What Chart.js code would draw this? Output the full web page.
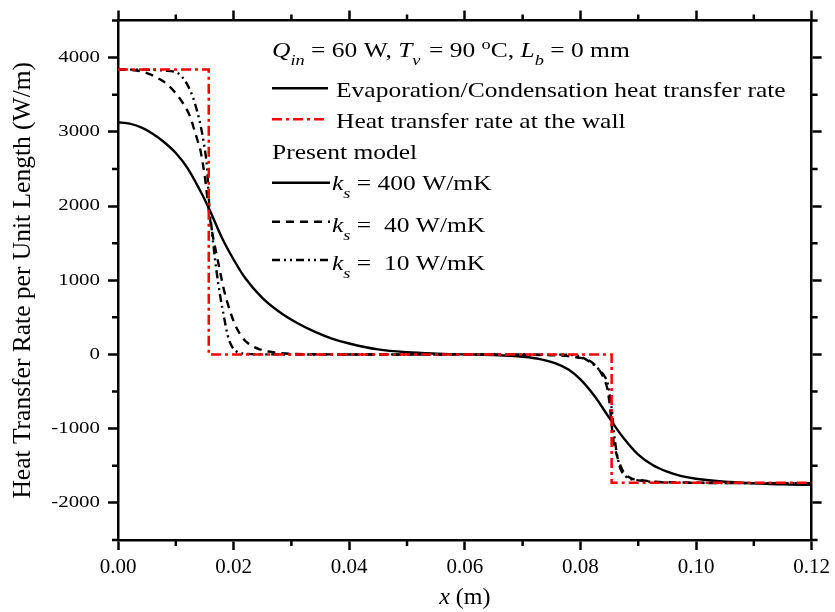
<!DOCTYPE html>
<html><head><meta charset="utf-8">
<script src="https://cdn.jsdelivr.net/npm/chart.js@4.4.1/dist/chart.umd.min.js"></script>
<style>html,body{margin:0;padding:0;background:#fff;}</style>
</head><body>
<canvas id="c" width="835" height="612"></canvas>
<script>
// ---- data ----
const xTickValues = [0, 0.02, 0.04, 0.06, 0.08, 0.10, 0.12];
const xMinorTicks = [0.01, 0.03, 0.05, 0.07, 0.09, 0.11];
const yTickValues = [-2000, -1000, 0, 1000, 2000, 3000, 4000];
const yMinorTicks = [-2500, -1500, -500, 500, 1500, 2500, 3500, 4500];

// Heat transfer rate at the wall (red dash-dot)
const wallX = [0, 0.0157, 0.0157, 0.0854, 0.0854, 0.12];
const wallY = [3840, 3840, 0, 0, -1730, -1730];

// ks = 400 W/mK (solid) - evaporation/condensation heat transfer rate
const ks400X = [0, 0.002, 0.004, 0.006, 0.008, 0.010, 0.012, 0.014, 0.0157, 0.018, 0.020, 0.022, 0.025, 0.028, 0.031, 0.034, 0.037, 0.040, 0.045, 0.050, 0.055, 0.060, 0.065, 0.068, 0.070, 0.073, 0.0756, 0.078, 0.080, 0.0825, 0.085, 0.0875, 0.090, 0.0925, 0.095, 0.0975, 0.100, 0.105, 0.110, 0.115, 0.120];
const ks400Y = [3130, 3110, 3060, 2975, 2860, 2715, 2515, 2240, 1975, 1570, 1280, 1030, 760, 570, 425, 308, 215, 148, 68, 30, 12, 2, -8, -18, -30, -62, -116, -205, -335, -566, -855, -1130, -1350, -1490, -1580, -1640, -1675, -1715, -1735, -1750, -1757];

// ks = 40 W/mK (dashed)
const ks40X = [0, 0.002, 0.004, 0.0057, 0.007, 0.0086, 0.010, 0.0114, 0.0125, 0.0131, 0.0137, 0.0143, 0.0151, 0.0157, 0.0164, 0.0171, 0.0177, 0.0183, 0.019, 0.0197, 0.0205, 0.0214, 0.0222, 0.0231, 0.0245, 0.026, 0.028, 0.030, 0.035, 0.040, 0.060, 0.070, 0.075, 0.078, 0.0795, 0.0813, 0.0825, 0.0836, 0.0842, 0.0847, 0.0851, 0.0856, 0.0862, 0.087, 0.0876, 0.0882, 0.089, 0.0905, 0.093, 0.100, 0.120];
const ks40Y = [3838, 3835, 3816, 3771, 3720, 3636, 3520, 3367, 3200, 3052, 2900, 2737, 2350, 1950, 1600, 1330, 1100, 880, 680, 512, 360, 243, 170, 120, 70, 40, 18, 8, 2, 0, 0, -3, -10, -22, -40, -71, -140, -251, -350, -476, -700, -1100, -1330, -1510, -1600, -1645, -1675, -1695, -1715, -1728, -1735];

// ks = 10 W/mK (dash-dot-dot)
const ks10X = [0, 0.004, 0.008, 0.0103, 0.0112, 0.012, 0.0129, 0.0137, 0.0143, 0.0148, 0.0154, 0.0158, 0.0162, 0.0165, 0.017, 0.0177, 0.0184, 0.019, 0.0197, 0.0205, 0.022, 0.025, 0.030, 0.060, 0.075, 0.078, 0.080, 0.0819, 0.0833, 0.0842, 0.0847, 0.0851, 0.0855, 0.0858, 0.0862, 0.0866, 0.087, 0.0878, 0.0885, 0.0893, 0.093, 0.100, 0.120];
const ks10Y = [3838, 3838, 3825, 3794, 3730, 3636, 3480, 3276, 3080, 2872, 2513, 2000, 1700, 1480, 1150, 780, 480, 250, 110, 40, 10, 2, 0, 0, -2, -5, -30, -116, -210, -297, -386, -560, -800, -1050, -1285, -1450, -1555, -1640, -1675, -1689, -1720, -1730, -1735];

const zip = (xs, ys) => xs.map((x, i) => ({x: x, y: ys[i]}));

// ---- canvas + vertically condensed tick font (as in reference) ----
const canvas = document.getElementById('c');
const ctx0 = canvas.getContext('2d');
const origFill = ctx0.fillText;
ctx0.fillText = function (t, x, y, mw) {
  const f = this.font;
  let sy = 1;
  if (f.indexOf('20.9px') >= 0) sy = 0.8;
  if (sy === 1) {
    return mw === undefined ? origFill.call(this, t, x, y) : origFill.call(this, t, x, y, mw);
  }
  this.save();
  this.translate(x, y);
  this.scale(1, sy);
  origFill.call(this, t, 0, 0);
  this.restore();
};

const FAM = '"Liberation Serif", "Times New Roman", serif';

function drawRich(c, x, y, parts, size, sy) {
  c.save();
  c.translate(x, y);
  c.scale(1, sy);
  c.fillStyle = '#000';
  c.textAlign = 'left';
  c.textBaseline = 'alphabetic';
  let cx = 0;
  for (const p of parts) {
    const small = p.sub || p.sup;
    const fs = small ? size * 0.72 : size;
    c.font = (p.it ? 'italic ' : '') + fs + 'px ' + FAM;
    const dy = p.sub ? size * 0.40 : (p.sup ? -size * 0.38 : 0);
    origFill.call(c, p.t, cx, dy);
    cx += c.measureText(p.t).width + (p.dx || 0);
  }
  c.restore();
}

const overlay = {
  id: 'overlay',
  afterDraw(chart) {
    const c = chart.ctx, xs = chart.scales.x, ys = chart.scales.y, a = chart.chartArea;
    // minor ticks
    c.save();
    c.strokeStyle = '#000';
    c.lineWidth = 2.5;
    c.beginPath();
    for (const v of xMinorTicks) {
      const px = xs.getPixelForValue(v);
      c.moveTo(px, a.bottom); c.lineTo(px, a.bottom + 6);
      c.moveTo(px, a.top); c.lineTo(px, a.top - 6);
    }
    for (const v of yMinorTicks) {
      const py = ys.getPixelForValue(v);
      c.moveTo(a.left, py); c.lineTo(a.left - 6, py);
      c.moveTo(a.right, py); c.lineTo(a.right + 6, py);
    }
    c.stroke();
    c.restore();

    // legend
    const LS = 25.5, LSY = 0.79;
    const sample = (x1, x2, y, color, dash, w) => {
      c.save();
      c.strokeStyle = color; c.lineWidth = w; c.setLineDash(dash);
      c.beginPath(); c.moveTo(x1, y); c.lineTo(x2, y); c.stroke();
      c.restore();
    };
    drawRich(c, 272, 56.5, [
      {t: 'Q', it: true}, {t: 'in', it: true, sub: true}, {t: ' = 60 W, '},
      {t: 'T', it: true}, {t: 'v', it: true, sub: true, dx: 2}, {t: ' = 90 '},
      {t: 'o', sup: true}, {t: 'C, '},
      {t: 'L', it: true}, {t: 'b', it: true, sub: true}, {t: ' = 0 mm'}
    ], LS, LSY);
    sample(272, 328, 88.3, '#000', [], 2.5);
    drawRich(c, 336, 97.3, [{t: 'Evaporation/Condensation heat transfer rate'}], LS, LSY);
    sample(272, 324, 119.3, '#ff0000', [10, 4, 3, 4], 2.5);
    drawRich(c, 336, 128.3, [{t: 'Heat transfer rate at the wall'}], LS, LSY);
    drawRich(c, 272, 159.3, [{t: 'Present model'}], LS, LSY);
    sample(272, 330, 182.7, '#000', [], 2.5);
    drawRich(c, 332, 190, [{t: 'k', it: true}, {t: 's', it: true, sub: true}, {t: ' = 400 W/mK'}], LS, LSY);
    sample(272, 330, 221.7, '#000', [8, 6], 2.5);
    drawRich(c, 332, 231.5, [{t: 'k', it: true}, {t: 's', it: true, sub: true}, {t: ' =  40 W/mK'}], LS, LSY);
    sample(272, 330, 260, '#000', [8, 4, 2, 4, 2, 4], 2.5);
    drawRich(c, 332, 270, [{t: 'k', it: true}, {t: 's', it: true, sub: true}, {t: ' =  10 W/mK'}], LS, LSY);

    // x axis title
    c.save();
    c.font = 'italic 24px ' + FAM;
    const w1 = c.measureText('x').width;
    c.font = '24px ' + FAM;
    const w2 = c.measureText(' (m)').width;
    c.restore();
    const cx = (a.left + a.right) / 2 - (w1 + w2) / 2;
    drawRich(c, cx, 604, [{t: 'x', it: true}, {t: ' (m)'}], 24, 1);
  }
};

const gridOpts = {drawOnChartArea: false, drawTicks: true, tickLength: 10, tickWidth: 2.5, tickColor: '#000'};
const borderOpts = {display: true, color: '#000', width: 2.5};
const setXTicks = s => { s.ticks = xTickValues.map(v => ({value: v})); };
const setYTicks = s => { s.ticks = yTickValues.map(v => ({value: v})); };

new Chart(ctx0, {
  type: 'line',
  data: {
    datasets: [
      {label: 'Heat transfer rate at the wall', data: zip(wallX, wallY), borderColor: '#ff0000', borderWidth: 2.5, borderDash: [10, 4, 3, 4], pointRadius: 0, tension: 0, order: 0},
      {label: 'ks = 400 W/mK', data: zip(ks400X, ks400Y), borderColor: '#000', borderWidth: 2.4, pointRadius: 0, cubicInterpolationMode: 'monotone', order: 1},
      {label: 'ks = 40 W/mK', data: zip(ks40X, ks40Y), borderColor: '#000', borderWidth: 2.4, borderDash: [8, 6], pointRadius: 0, cubicInterpolationMode: 'monotone', order: 2},
      {label: 'ks = 10 W/mK', data: zip(ks10X, ks10Y), borderColor: '#000', borderWidth: 2.4, borderDash: [8, 4, 2, 4, 2, 4], pointRadius: 0, cubicInterpolationMode: 'monotone', order: 3}
    ]
  },
  options: {
    responsive: false,
    animation: false,
    devicePixelRatio: 1,
    layout: {padding: 0},
    plugins: {legend: {display: false}, tooltip: {enabled: false}},
    scales: {
      x: {
        type: 'linear', position: 'bottom', min: 0, max: 0.12,
        afterBuildTicks: setXTicks,
        afterFit: s => { s.height = 72; },
        ticks: {callback: v => Number(v).toFixed(2), font: {family: FAM, size: 21}, color: '#000', padding: 5, maxRotation: 0, autoSkip: false},
        grid: gridOpts, border: borderOpts
      },
      x2: {
        type: 'linear', position: 'top', min: 0, max: 0.12,
        afterBuildTicks: setXTicks,
        afterFit: s => { s.height = 20; },
        ticks: {callback: () => '', font: {size: 1}, padding: 0, autoSkip: false},
        grid: gridOpts, border: borderOpts
      },
      y: {
        type: 'linear', position: 'left', min: -2500, max: 4500,
        afterBuildTicks: setYTicks,
        afterFit: s => { s.width = 118; },
        ticks: {callback: v => String(v), font: {family: FAM, size: 20.9}, color: '#000', padding: 8, autoSkip: false},
        title: {display: true, text: 'Heat Transfer Rate per Unit Length (W/m)', font: {family: FAM, size: 25.5}, color: '#000', padding: {top: 8, bottom: 0}},
        grid: gridOpts, border: borderOpts
      },
      y2: {
        type: 'linear', position: 'right', min: -2500, max: 4500,
        afterBuildTicks: setYTicks,
        afterFit: s => { s.width = 16; },
        ticks: {callback: () => '', font: {size: 1}, padding: 0, autoSkip: false},
        grid: gridOpts, border: borderOpts
      }
    }
  },
  plugins: [overlay]
});
</script>
</body></html>
